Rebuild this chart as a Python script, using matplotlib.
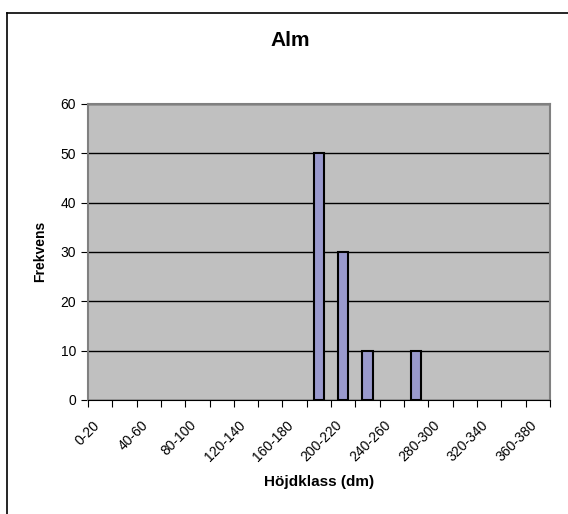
import matplotlib.pyplot as plt
from matplotlib.lines import Line2D
from matplotlib.transforms import ScaledTranslation
import numpy as np

plt.rcParams['font.family'] = ['Liberation Sans', 'DejaVu Sans']

klasser = ['%d-%d' % (a, a + 20) for a in range(0, 380, 20)]
frekvens = [0, 0, 0, 0, 0, 0, 0, 0, 0, 50, 30, 10, 0, 10, 0, 0, 0, 0, 0]

fig = plt.figure(figsize=(5.68, 5.14), dpi=100)
ax = fig.add_axes([0.155, 0.222, 0.813, 0.576])

x = np.arange(len(klasser))
f = np.array(frekvens)
# empty classes get no bar (otherwise the edge shows on the baseline)
ax.bar(x[f > 0], f[f > 0], width=0.42, color='#9999cc', edgecolor='black', linewidth=1.5, zorder=3)

ax.set_facecolor('#c0c0c0')
ax.set_xlim(-0.5, len(klasser) - 0.5)
ax.set_ylim(0, 60)
ax.set_yticks(range(0, 61, 10))
ax.grid(axis='y', color='black', linewidth=1, zorder=1)

# ticks on category borders, labels on every other category
ax.set_xticks(np.arange(-0.5, len(klasser)), minor=False)
ax.set_xticklabels([])
ax.set_xticks(x[::2], minor=True)
ax.set_xticklabels(klasser[::2], minor=True, rotation=45, ha='right',
                   rotation_mode='anchor', fontsize=10)
ax.tick_params(axis='x', which='minor', length=0, pad=13)
ax.tick_params(axis='x', which='major', length=5, color='black', direction='out')
ax.tick_params(axis='y', length=5, labelsize=10, direction='out')
off = ScaledTranslation(-8 / 100, 0, fig.dpi_scale_trans)
for lab in ax.get_xticklabels(minor=True):
    lab.set_transform(lab.get_transform() + off)

for s in ['top', 'right', 'left']:
    ax.spines[s].set_color('#808080')
    ax.spines[s].set_linewidth(1.5)
ax.spines['bottom'].set_color('black')

fig.text(290 / 568, 1 - 41 / 514, 'Alm', fontsize=15, fontweight='bold', ha='center', va='center')
ax.set_ylabel('Frekvens', fontsize=10, fontweight='bold', labelpad=10)
ax.set_xlabel('Höjdklass (dm)', fontsize=11, fontweight='bold', labelpad=8)

# chart border (only top and left visible)
fig.add_artist(Line2D([7 / 568, 7 / 568], [0, 1 - 13 / 514], transform=fig.transFigure, color='black', linewidth=1.2))
fig.add_artist(Line2D([7 / 568, 1], [1 - 13 / 514, 1 - 13 / 514], transform=fig.transFigure, color='black', linewidth=1.2))

fig.savefig('out.png', dpi=100)
